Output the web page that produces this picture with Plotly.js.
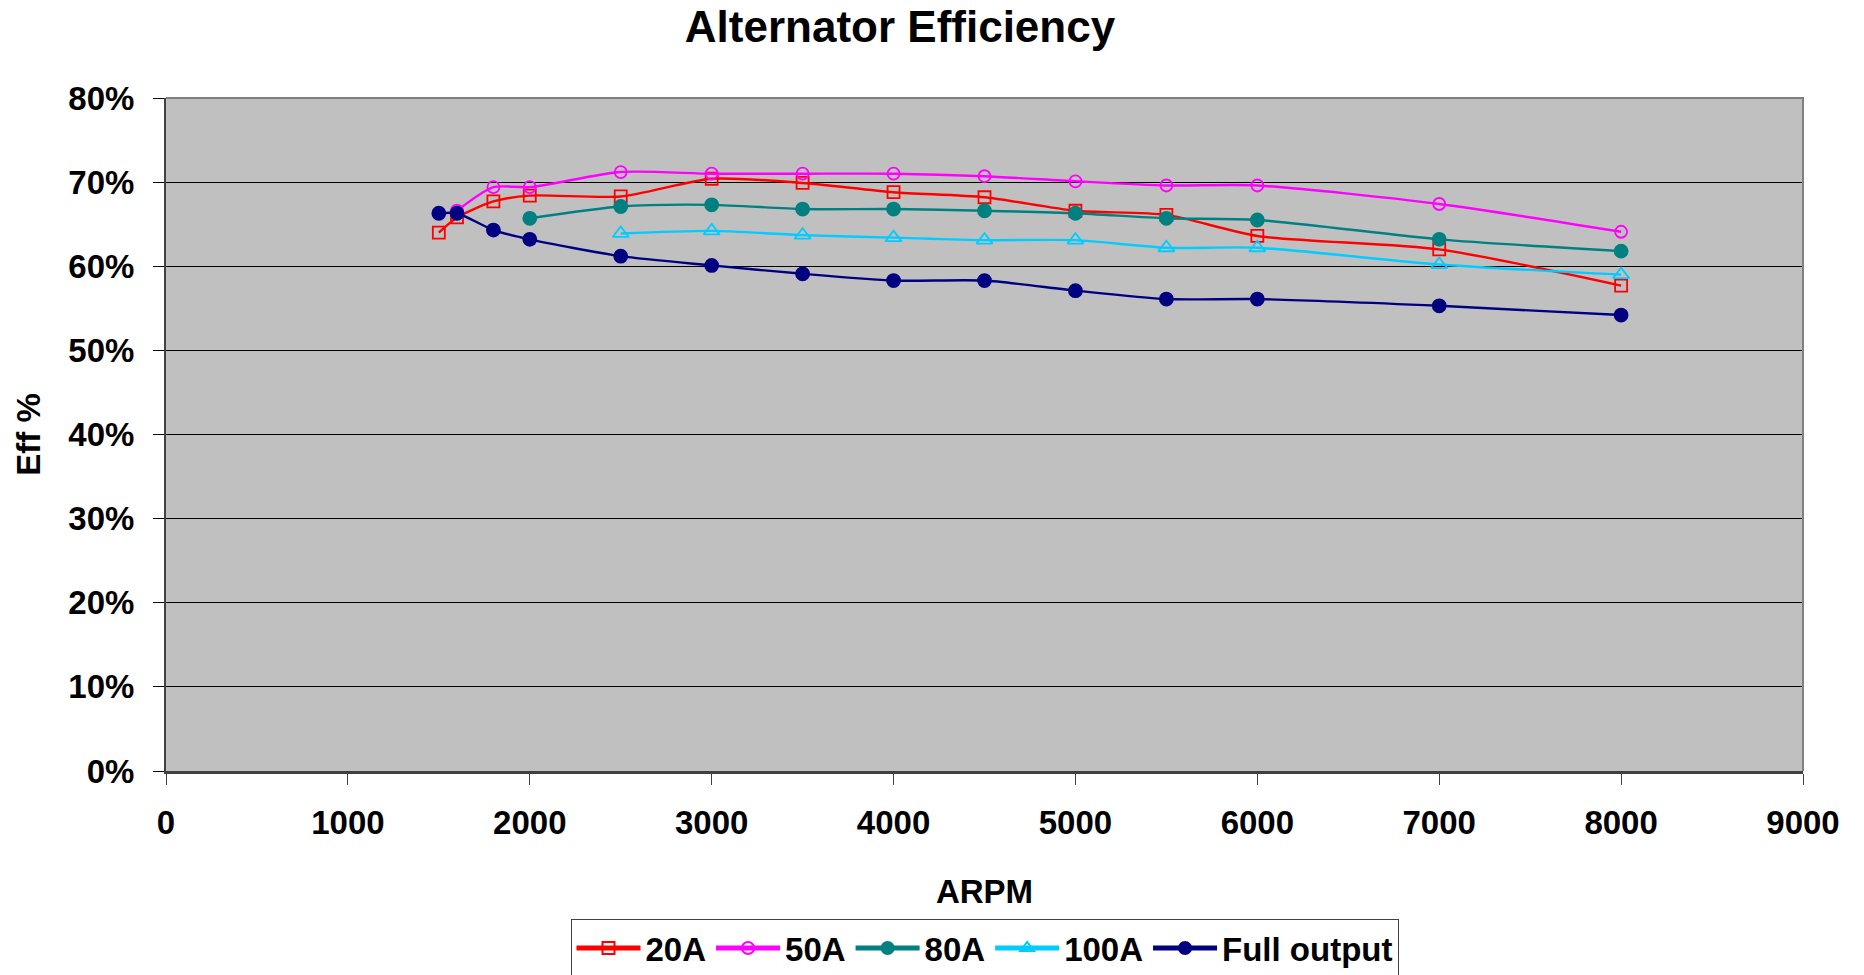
<!DOCTYPE html>
<html>
<head>
<meta charset="utf-8">
<script src="https://cdn.plot.ly/plotly-3.0.1.min.js"></script>
<style>
  html, body { margin: 0; padding: 0; background: #ffffff; }
  #chart { width: 1864px; height: 975px; }
</style>
</head>
<body>
<div id="chart"></div>
<script>
// Alternator efficiency (%) versus alternator speed (RPM) at several load currents.
const rpm20 = [1500, 1600, 1800, 2000, 2500, 3000, 3500, 4000, 4500, 5000, 5500, 6000, 7000, 8000];
const eff20 = [64.0, 65.8, 67.7, 68.4, 68.3, 70.4, 69.9, 68.8, 68.2, 66.6, 66.1, 63.6, 62.0, 57.7];

const rpm50 = [1600, 1800, 2000, 2500, 3000, 3500, 4000, 4500, 5000, 5500, 6000, 7000, 8000];
const eff50 = [66.6, 69.4, 69.4, 71.2, 71.0, 71.0, 71.0, 70.7, 70.1, 69.6, 69.6, 67.4, 64.1];

const rpm80 = [2000, 2500, 3000, 3500, 4000, 4500, 5000, 5500, 6000, 7000, 8000];
const eff80 = [65.7, 67.1, 67.3, 66.8, 66.8, 66.6, 66.3, 65.7, 65.5, 63.2, 61.8];

const rpm100 = [2500, 3000, 3500, 4000, 4500, 5000, 5500, 6000, 7000, 8000];
const eff100 = [63.9, 64.2, 63.7, 63.4, 63.1, 63.1, 62.2, 62.2, 60.2, 59.0];

const rpmFull = [1500, 1600, 1800, 2000, 2500, 3000, 3500, 4000, 4500, 5000, 5500, 6000, 7000, 8000];
const effFull = [66.3, 66.3, 64.3, 63.2, 61.2, 60.1, 59.1, 58.3, 58.3, 57.1, 56.1, 56.1, 55.3, 54.2];

const seriesNames = ['20A', '50A', '80A', '100A', 'Full output'];
const xTickVals = [0, 1000, 2000, 3000, 4000, 5000, 6000, 7000, 8000, 9000];
const yTickVals = [0, 0.1, 0.2, 0.3, 0.4, 0.5, 0.6, 0.7, 0.8];

const FONT = 'Liberation Sans, Arial, Helvetica, sans-serif';
const pct = v => v.map(p => p / 100);

function series(name, x, y, color, symbol, size) {
  return {
    type: 'scatter',
    mode: 'lines+markers',
    name: name,
    x: x,
    y: pct(y),
    line: { color: color, width: 2.4, shape: 'spline', smoothing: 0.7 },
    marker: {
      symbol: symbol,
      size: size,
      color: color,
      line: { color: color, width: 1.8 }
    },
    hoverinfo: 'x+y+name'
  };
}

const traces = [
  series(seriesNames[0], rpm20, eff20, '#FF0000', 'square-open', 12),
  series(seriesNames[1], rpm50, eff50, '#FF00FF', 'circle-open', 12),
  series(seriesNames[2], rpm80, eff80, '#008080', 'circle', 13),
  series(seriesNames[3], rpm100, eff100, '#00CCFF', 'triangle-up-open', 14),
  series(seriesNames[4], rpmFull, effFull, '#000080', 'circle', 13)
];

const layout = {
  width: 1864,
  height: 975,
  paper_bgcolor: '#ffffff',
  plot_bgcolor: '#C0C0C0',
  font: { family: FONT, size: 33, color: '#000000', weight: 'bold' },
  margin: { l: 166, r: 61, t: 98, b: 204, autoexpand: false },
  title: {
    text: 'Alternator Efficiency',
    font: { family: FONT, size: 44, color: '#000000', weight: 'bold' },
    x: 900 / 1864,
    xref: 'container',
    xanchor: 'center',
    y: 1 - 27 / 975,
    yref: 'container',
    yanchor: 'middle'
  },
  xaxis: {
    range: [0, 9000],
    tickvals: xTickVals,
    ticktext: xTickVals.map(String),
    showgrid: false,
    zeroline: false,
    showline: true,
    linecolor: '#404040',
    linewidth: 3,
    ticks: 'outside',
    ticklen: 11,
    tickwidth: 1,
    tickcolor: '#404040',
    ticklabelstandoff: 9,
    tickfont: { family: FONT, size: 33, color: '#000000', weight: 'bold' },
    title: {
      text: 'ARPM',
      font: { family: FONT, size: 33, color: '#000000', weight: 'bold' },
      standoff: 41
    }
  },
  yaxis: {
    range: [0, 0.8],
    tickvals: yTickVals,
    tickformat: '.0%',
    showgrid: true,
    gridcolor: '#000000',
    gridwidth: 1,
    zeroline: false,
    showline: true,
    linecolor: '#404040',
    linewidth: 2,
    ticks: 'outside',
    ticklen: 11,
    tickwidth: 1,
    tickcolor: '#000000',
    ticklabelstandoff: 12,
    tickfont: { family: FONT, size: 33, color: '#000000', weight: 'bold' },
    title: {
      text: 'Eff %',
      font: { family: FONT, size: 33, color: '#000000', weight: 'bold' },
      standoff: 18
    }
  },
  shapes: [
    {
      // top and right edges of the plot frame
      type: 'path',
      xref: 'paper',
      yref: 'paper',
      path: 'M 0,1 L 1,1 L 1,0',
      line: { color: '#808080', width: 2 },
      layer: 'above'
    }
  ],
  legend: {
    orientation: 'h',
    x: 0.5,
    xanchor: 'center',
    y: -0.22,
    yanchor: 'top',
    bgcolor: '#ffffff',
    bordercolor: '#404040',
    borderwidth: 1,
    font: { family: FONT, size: 33, color: '#000000', weight: 'bold' },
    itemsizing: 'constant',
    itemwidth: 64,
    tracegroupgap: 0
  },
  showlegend: true
};

Plotly.newPlot('chart', traces, layout, { displayModeBar: false, staticPlot: true });
</script>
</body>
</html>
